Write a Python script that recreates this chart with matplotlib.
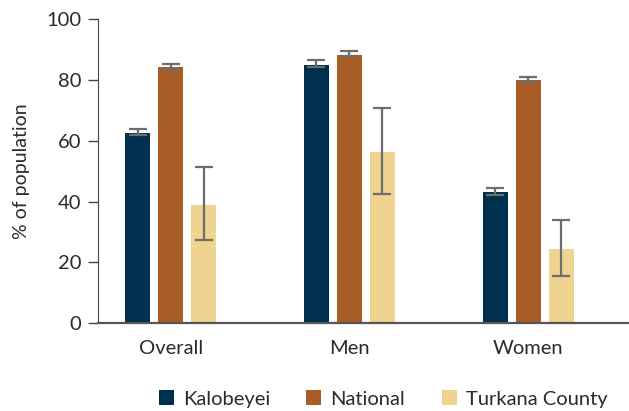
import matplotlib
matplotlib.use("Agg")
import matplotlib.pyplot as plt
from matplotlib.patches import Patch
import numpy as np

plt.rcParams['font.family'] = ['Lato', 'DejaVu Sans']

categories = ["Overall", "Men", "Women"]
series = ["Kalobeyei", "National", "Turkana County"]
kalobeyei = [62.6, 85.1, 43.0]
kalobeyei_lo = [61.8, 84.2, 42.1]
kalobeyei_hi = [63.8, 86.5, 44.4]
national = [84.2, 88.3, 80.1]
national_lo = [83.3, 88.1, 79.1]
national_hi = [85.5, 89.6, 81.2]
turkana = [38.9, 56.4, 24.5]
turkana_lo = [27.2, 42.5, 15.6]
turkana_hi = [51.5, 70.9, 34.0]
colors = ["#00304F", "#A85C26", "#EFD491"]

fig = plt.figure(figsize=(6.29, 4.11), dpi=100)
ax = fig.add_axes([98/629, 1-323/411, 1-98/629, (323-19.5)/411])

x = np.arange(len(categories))
offs = [-0.1846, 0.0, 0.1846]
w = 0.14
data = [(kalobeyei, kalobeyei_lo, kalobeyei_hi),
        (national, national_lo, national_hi),
        (turkana, turkana_lo, turkana_hi)]
for i, (vals, lo, hi) in enumerate(data):
    vals = np.array(vals); lo = np.array(lo); hi = np.array(hi)
    ax.bar(x + offs[i], vals, width=w, color=colors[i], zorder=2)
    ax.errorbar(x + offs[i], (lo + hi) / 2, yerr=(hi - lo) / 2, fmt='none',
                ecolor='#6d6d6d', elinewidth=1.6, capsize=6.5, capthick=1.6, zorder=3)

ax.set_ylim(0, 100)
ax.set_xlim(-0.407, 2.564)
ax.set_yticks([0, 20, 40, 60, 80, 100])
ax.set_xticks(x)
ax.set_xticklabels(categories)
ax.tick_params(axis='x', length=0, pad=12, labelsize=14.5, labelcolor='#2a2a2a')
ax.tick_params(axis='y', length=7, width=1, color='#444444', pad=5, labelsize=14.5, labelcolor='#2a2a2a')
for s in ['top', 'right']:
    ax.spines[s].set_visible(False)
ax.spines['left'].set_color('#444444')
ax.spines['bottom'].set_color('#555555')
ax.spines['bottom'].set_linewidth(1.6)
ax.set_ylabel("% of population", fontsize=14, color='#2a2a2a', labelpad=12)

handles = [Patch(facecolor=c, label=s) for c, s in zip(colors, series)]
fig.legend(handles=handles, loc='center', bbox_to_anchor=(383/629, 1-399/411), ncol=3,
           frameon=False, fontsize=14.5, handlelength=0.75, handleheight=0.75,
           handletextpad=0.45, columnspacing=1.8, labelcolor='#2a2a2a')

fig.savefig("out.png", dpi=100)
